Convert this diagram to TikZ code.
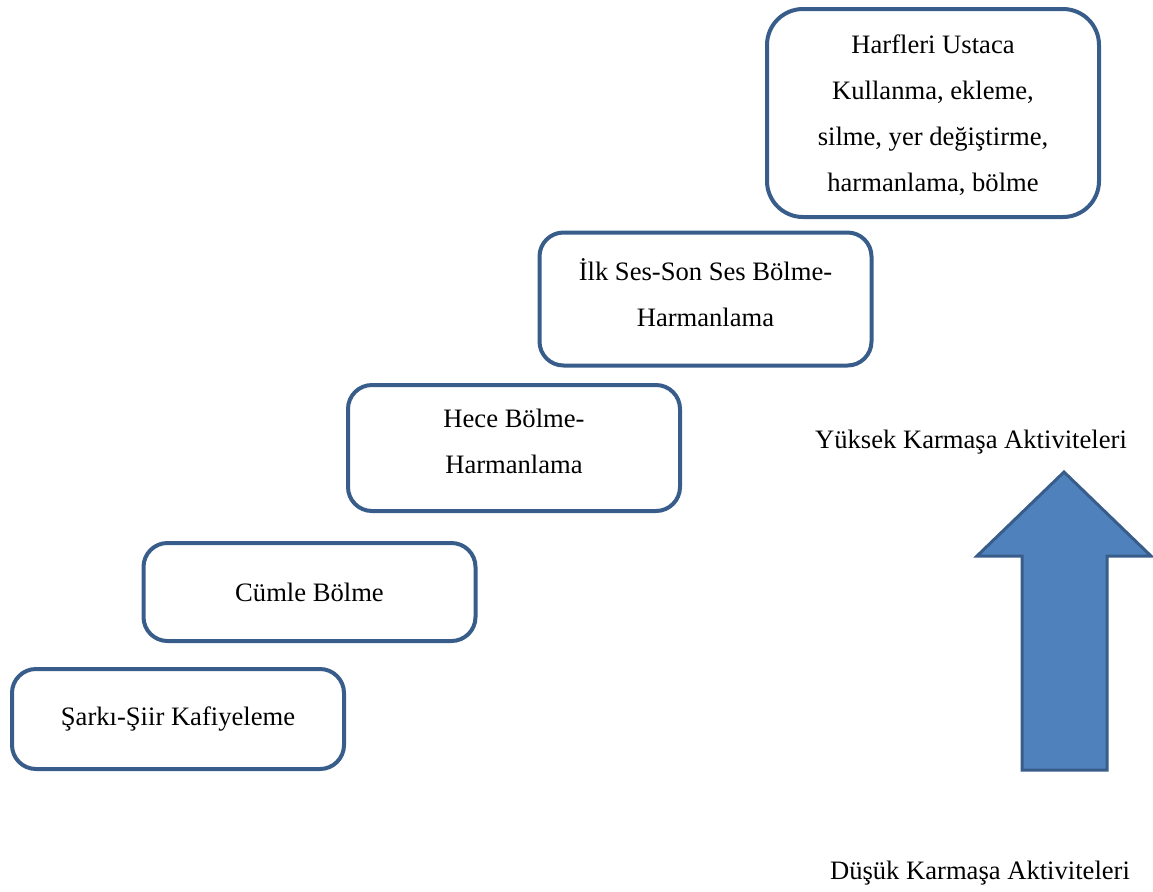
\documentclass[tikz,border=0pt]{standalone}
\usepackage{fontspec}
\setmainfont{Liberation Serif}
\usetikzlibrary{positioning}
\definecolor{edge}{RGB}{56,93,138}
\definecolor{arrowfill}{RGB}{79,129,189}
\tikzstyle{level} = [rectangle, draw=edge, line width=2pt, rounded corners=12pt, align=center, minimum width=166pt, font=\fontsize{13.3}{23}\selectfont]
\tikzstyle{label} = [font=\fontsize{13.3}{15}\selectfont]

\begin{document}
\begin{tikzpicture}[x=0.5pt, y=-0.5pt]
    \useasboundingbox (0,0) rectangle (1153,891);
    \node [level, minimum height=50pt] (rhyme) at (178,719) {Şarkı-Şiir Kafiyeleme};
    \node [level, minimum height=49pt] (sentence) at (309.5,592) {Cümle Bölme};
    \node [level, minimum height=63pt, text depth=6.5pt] (syllable) at (514,448) {Hece Bölme-\\Harmanlama};
    \node [level, minimum height=66.5pt, text depth=6.5pt] (phoneme) at (705.5,299) {İlk Ses-Son Ses Bölme-\\Harmanlama};
    \node [level, minimum height=104pt, rounded corners=18pt, text depth=0pt] (letters) at (933,113) {Harfleri Ustaca\\Kullanma, ekleme,\\silme, yer değiştirme,\\harmanlama, bölme};

    \node [label] (high) at (971,442) {Yüksek Karmaşa Aktiviteleri};
    \node [label] (low) at (980,873) {Düşük Karmaşa Aktiviteleri};

    % big arrow
    \draw [draw=edge, fill=arrowfill, line width=1.5pt, line join=miter]
        (1022,770) -- (1022,556) -- (977,556) -- (1064,472) -- (1151,556)
        -- (1107,556) -- (1107,770) -- cycle;
\end{tikzpicture}
\end{document}
